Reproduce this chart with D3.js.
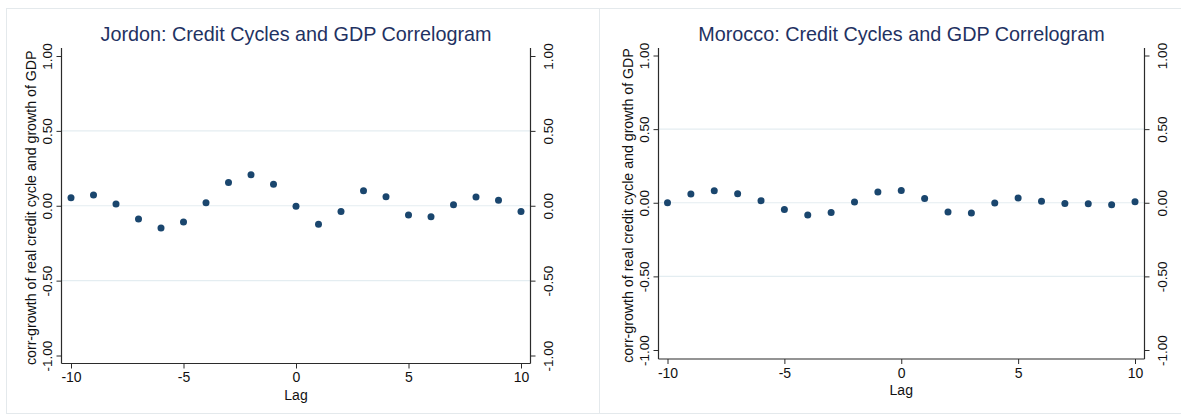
<!DOCTYPE html>
<html>
<head>
<meta charset="utf-8">
<script src="https://cdn.jsdelivr.net/npm/d3@7"></script>
<style>
  html, body { margin: 0; padding: 0; background: #ffffff; }
  svg { display: block; font-family: "Liberation Sans", Arial, sans-serif; }
</style>
</head>
<body>
<svg id="chart" width="1181" height="415"></svg>
<script>
// Lags of the cross-correlation
const lags = [-10, -9, -8, -7, -6, -5, -4, -3, -2, -1, 0, 1, 2, 3, 4, 5, 6, 7, 8, 9, 10];

// Correlation between growth of real credit cycle and growth of GDP, by lag
const jordanCorr = [0.054, 0.071, 0.011, -0.089, -0.149, -0.109, 0.020, 0.156, 0.207, 0.143,
                    -0.004, -0.123, -0.038, 0.100, 0.060, -0.062, -0.074, 0.007, 0.058, 0.036, -0.038];
const moroccoCorr = [0.000, 0.059, 0.082, 0.061, 0.014, -0.045, -0.084, -0.066, 0.005, 0.073,
                     0.084, 0.029, -0.063, -0.070, -0.002, 0.032, 0.011, -0.005, -0.007, -0.014, 0.007];

// Axis ticks and labels
const xTicks = [-10, -5, 0, 5, 10];
const yTicks = [1, 0.5, 0, -0.5, -1];
const gridTicks = [0.5, 0, -0.5];

const titles = ["Jordon: Credit Cycles and GDP Correlogram", "Morocco: Credit Cycles and GDP Correlogram"];
const yTitle = "corr-growth of real credit cycle and growth of GDP";
const xTitle = "Lag";

// Layout of each panel
const panels = [
  { values: jordanCorr, title: titles[0],
    frame: [6, 8, 593, 405],
    left: 61.5, right: 530.5, top: 48, bottom: 363.5,
    x10: [71, 521], y1: [355.5, 56] },
  { values: moroccoCorr, title: titles[1],
    frame: [599, 8, 600, 405],
    left: 658.5, right: 1144.5, top: 48, bottom: 359,
    x10: [667.5, 1135], y1: [350, 55.5] }
];

const svg = d3.select("#chart");
const axisColor = "#2b2b2b";
const gridColor = "#e4edf1";
const markColor = "#1a466e";
const titleColor = "#1f3262";

// plain hyphen for negative numbers
const fmtY = d => d3.format(".2f")(d).replace("\u2212", "-");
const fmtX = d => d3.format("d")(d).replace("\u2212", "-");

panels.forEach(p => {
  const g = svg.append("g");

  // outer graph-region frame
  g.append("rect")
    .attr("x", p.frame[0] + 0.5).attr("y", p.frame[1] + 0.5)
    .attr("width", p.frame[2]).attr("height", p.frame[3])
    .attr("fill", "none").attr("stroke", "#e4e9ec").attr("stroke-width", 1);

  const x = d3.scaleLinear().domain([-10, 10]).range(p.x10);
  const y = d3.scaleLinear().domain([-1, 1]).range(p.y1);

  // horizontal grid lines
  g.append("g").selectAll("line").data(gridTicks).join("line")
    .attr("x1", p.left).attr("x2", p.right)
    .attr("y1", d => y(d)).attr("y2", d => y(d))
    .attr("stroke", gridColor).attr("stroke-width", 1.2);

  // left axis
  const yAxisL = d3.axisLeft(y).tickValues(yTicks).tickSize(5).tickFormat(fmtY);
  const gl = g.append("g").attr("transform", `translate(${p.left},0)`).call(yAxisL);
  gl.select(".domain").attr("d", `M0,${p.top}V${p.bottom}`);

  // right axis
  const yAxisR = d3.axisRight(y).tickValues(yTicks).tickSize(5).tickFormat(fmtY);
  const gr = g.append("g").attr("transform", `translate(${p.right},0)`).call(yAxisR);
  gr.select(".domain").attr("d", `M0,${p.top}V${p.bottom}`);

  // bottom axis
  const xAxis = d3.axisBottom(x).tickValues(xTicks).tickSize(5).tickPadding(4).tickFormat(fmtX);
  const gb = g.append("g").attr("transform", `translate(0,${p.bottom})`).call(xAxis);
  gb.select(".domain").attr("d", `M${p.left},0H${p.right}`);

  [gl, gr, gb].forEach(a => {
    a.select(".domain").attr("stroke", axisColor).attr("stroke-width", 1.2);
    a.selectAll(".tick line").attr("stroke", axisColor).attr("stroke-width", 1);
    a.selectAll("text").attr("fill", "#111")
      .attr("font-family", "'Liberation Sans', Arial, sans-serif");
  });
  gb.selectAll("text").attr("font-size", 14);

  // vertical tick labels on both y axes
  gl.selectAll(".tick text")
    .attr("font-size", 13.5)
    .attr("transform", "translate(-9.5,0) rotate(-90)")
    .attr("x", 0).attr("y", 0).attr("dy", 0)
    .attr("text-anchor", "middle");
  gr.selectAll(".tick text")
    .attr("font-size", 13.5)
    .attr("transform", "translate(12.5,0) rotate(-90)")
    .attr("x", 0).attr("y", 0).attr("dy", "0.71em")
    .attr("text-anchor", "middle");

  // y axis title
  g.append("text")
    .attr("transform", `translate(${p.left - 25.5},${(p.top + p.bottom) / 2 + 2}) rotate(-90)`)
    .attr("text-anchor", "middle")
    .attr("font-size", 14.2).attr("fill", "#111")
    .text(yTitle);

  // x axis title
  g.append("text")
    .attr("x", x(0)).attr("y", p.bottom + 36)
    .attr("text-anchor", "middle")
    .attr("font-size", 14).attr("fill", "#111")
    .text(xTitle);

  // chart title
  g.append("text")
    .attr("x", (p.left + p.right) / 2).attr("y", 41)
    .attr("text-anchor", "middle")
    .attr("font-size", 19.8).attr("fill", titleColor)
    .text(p.title);

  // correlation markers
  g.append("g").selectAll("circle").data(lags).join("circle")
    .attr("cx", (d) => x(d))
    .attr("cy", (d, i) => y(p.values[i]))
    .attr("r", 3.5)
    .attr("fill", markColor);
});
</script>
</body>
</html>
